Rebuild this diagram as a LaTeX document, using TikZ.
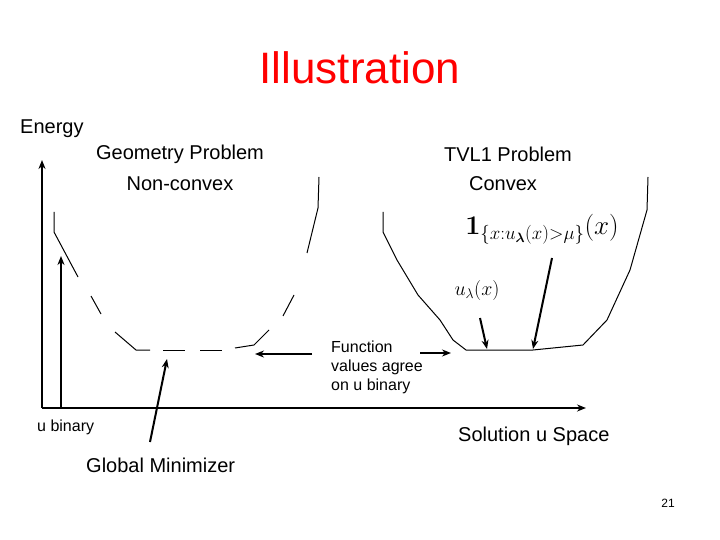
\RequirePackage{fix-cm}
\documentclass[tikz,border=0pt]{standalone}
\usepackage{amsmath}
\usepackage[no-math]{fontspec}
\setmainfont{Liberation Sans}
\usetikzlibrary{arrows.meta}
\definecolor{ilRed}{HTML}{FF0000}
\definecolor{ilInk}{HTML}{000000}
\tikzset{
  ttl/.style={font=\fontsize{44}{50}\selectfont,text=ilRed,inner sep=0pt},
  lbl/.style={font=\fontsize{20}{24}\selectfont,text=ilInk,inner sep=0pt},
  slbl/.style={font=\fontsize{16}{19}\selectfont,text=ilInk,inner sep=0pt,align=left},
  mlbl/.style={font=\fontsize{20}{24}\selectfont,text=ilInk,inner sep=0pt},
  crv/.style={line width=1pt,color=ilInk},
  axis/.style={line width=2pt,color=ilInk,-{Stealth[length=9pt,width=7pt]}},
  arr/.style={line width=2pt,color=ilInk,-{Stealth[length=9pt,width=7pt]}},
}
\begin{document}
\begin{tikzpicture}[x=1pt,y=-1pt]
  \useasboundingbox (0,0) rectangle (720,540);

  % Title
  \node[ttl] (title) at (360,68) {Illustration};

  % Labels
  \node[lbl,anchor=west] (energy) at (20,129) {Energy};
  \node[lbl] (geo) at (180,154) {Geometry Problem};
  \node[lbl] (ncvx) at (180,184) {Non-convex};
  \node[lbl] (tvl) at (508,154) {TVL1 Problem};
  \node[lbl] (cvx) at (503,184) {Convex};
  \node[mlbl,font=\fontsize{27}{30}\selectfont] (ind) at (542,229)
    {$\mathbf{1}_{\{x:u_{\boldsymbol\lambda}(x)>\mu\}}(x)$};
  \node[mlbl] (ulam) at (477,290) {$u_\lambda(x)$};
  \node[slbl,anchor=north west] (agree) at (331,341)
    {Function\\values agree\\on u binary};
  \node[slbl,anchor=west] (ubin) at (37,427) {u binary};
  \node[lbl,anchor=west] (space) at (458,436) {Solution u Space};
  \node[lbl,anchor=west] (gmin) at (86,465) {Global Minimizer};
  \node[font=\fontsize{12}{14}\selectfont,inner sep=0pt] (page) at (668,503) {21};

  % Axes
  \coordinate (o) at (42,408);
  \coordinate (ytop) at (42,160);
  \coordinate (xend) at (586,408);
  \draw[axis] (o) -- (ytop);
  \draw[axis] (o) -- (xend);
  \coordinate (ubase) at (61,408);
  \coordinate (utip) at (61,256);
  \draw[arr] (ubase) -- (utip);

  % Non-convex energy (broken curve)
  \draw[crv] (54,212) -- (54,232) -- (78,277);
  \draw[crv] (91,296) -- (101,314);
  \draw[crv] (115,332) -- (136,350) -- (150,350);
  \draw[crv] (163,350) -- (185,350);
  \draw[crv] (200,350) -- (222,350);
  \draw[crv] (235,348) -- (254,345) -- (269,330);
  \draw[crv] (283,316) -- (294,295);
  \draw[crv] (307,253) -- (318,208) -- (319,177);

  % Convex energy
  \draw[crv] (383,212) -- (383,232) -- (397,260) -- (418,295) -- (440,320)
    -- (453,340) -- (466,350) -- (533,350) -- (583,345) -- (607,320)
    -- (630,270) -- (647,210) -- (648,177);

  % Pointers
  \coordinate (gtail) at (150,442);
  \coordinate (gtip) at (167,359);
  \draw[arr] (gtail) -- (gtip);
  \coordinate (ltail) at (312,354);
  \coordinate (ltip) at (255,354);
  \draw[arr] (ltail) -- (ltip);
  \coordinate (rtail) at (420,353);
  \coordinate (rtip) at (451,353);
  \draw[arr] (rtail) -- (rtip);
  \coordinate (utail) at (480,318);
  \coordinate (uhead) at (487,349);
  \draw[arr] (utail) -- (uhead);
  \coordinate (itail) at (552,258);
  \coordinate (ihead) at (533,349);
  \draw[arr] (itail) -- (ihead);
\end{tikzpicture}
\end{document}
